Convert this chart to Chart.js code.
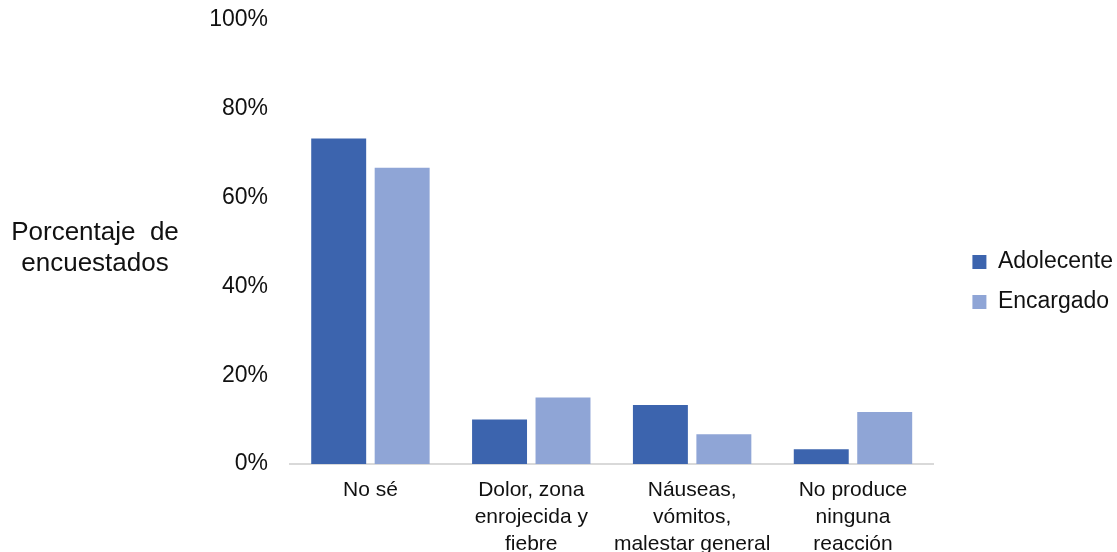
<!DOCTYPE html>
<html>
  <head>
    <meta charset="UTF-8">
    <title>Porcentaje de encuestados</title>
    <script src="https://cdn.jsdelivr.net/npm/chart.js"></script>
    <style>
      html, body { margin: 0; padding: 0; background: #fff; }
      .chart-box { width: 1117px; height: 552px; position: relative; }
    </style>
  </head>
  <body>
    <div class="chart-box">
      <canvas id="reactionChart"></canvas>
    </div>

    <script>
      const categories = [
        ['No sé'],
        ['Dolor, zona', 'enrojecida y', 'fiebre'],
        ['Náuseas,', 'vómitos,', 'malestar general'],
        ['No produce', 'ninguna', 'reacción']
      ];
      const adolecente = [73.3, 10.0, 13.3, 3.3];
      const encargado = [66.7, 15.0, 6.7, 11.7];
      const yTicks = [0, 20, 40, 60, 80, 100];
      const yTitle = ['Porcentaje  de', 'encuestados'];

      const fontFamily = "'Liberation Sans', Arial, sans-serif";
      const textColor = '#111';

      // horizontal y-axis title to the left of the tick labels
      const yTitlePlugin = {
        id: 'yTitle',
        afterDraw(chart) {
          const c = chart.ctx;
          c.save();
          c.font = '26px ' + fontFamily;
          c.fillStyle = textColor;
          c.textAlign = 'center';
          c.textBaseline = 'middle';
          c.fillText(yTitle[0], 95, 233);
          c.fillText(yTitle[1], 95, 264);
          c.restore();
        }
      };

      // leave a wider gap between the plot and the legend
      const legendGap = {
        id: 'legendGap',
        beforeInit(chart) {
          const fit = chart.legend.fit;
          chart.legend.fit = function () {
            fit.call(this);
            this.width += 16;
          };
        },
        afterLayout(chart) {
          chart.legend.left += 22;
          chart.legend.top -= 8;
        }
      };

      const ctx = document.getElementById('reactionChart').getContext('2d');
      new Chart(ctx, {
        type: 'bar',
        data: {
          labels: categories,
          datasets: [{
            label: 'Adolecente',
            data: adolecente,
            backgroundColor: '#3c64ae',
            barPercentage: 0.866,
            categoryPercentage: 0.789
          }, {
            label: 'Encargado',
            data: encargado,
            backgroundColor: '#8fa5d6',
            barPercentage: 0.866,
            categoryPercentage: 0.789
          }]
        },
        options: {
          responsive: true,
          maintainAspectRatio: false,
          animation: false,
          layout: { padding: { top: 20, right: 0, bottom: 0, left: 0 } },
          plugins: {
            legend: {
              position: 'right',
              labels: {
                boxWidth: 14,
                boxHeight: 14,
                padding: 17,
                color: textColor,
                font: { family: fontFamily, size: 23 }
              }
            },
            tooltip: { enabled: false }
          },
          scales: {
            x: {
              grid: { display: false, drawTicks: false },
              border: { display: true, color: '#d9d9d9', width: 2 },
              ticks: {
                color: textColor,
                padding: 13,
                maxRotation: 0,
                font: { family: fontFamily, size: 21, lineHeight: 1.28 }
              },
              afterFit(scale) { scale.height = 88; }
            },
            y: {
              min: 0,
              max: 100,
              afterBuildTicks(scale) { scale.ticks = yTicks.map(v => ({ value: v })); },
              grid: { display: false, drawTicks: false },
              border: { display: false },
              ticks: {
                color: textColor,
                padding: 22,
                font: { family: fontFamily, size: 23 },
                callback: v => v + '%'
              },
              afterFit(scale) {
                scale.width = 290;
                scale.paddingTop = 0;
                scale.paddingBottom = 0;
              }
            }
          }
        },
        plugins: [yTitlePlugin, legendGap]
      });
    </script>
  </body>
</html>
